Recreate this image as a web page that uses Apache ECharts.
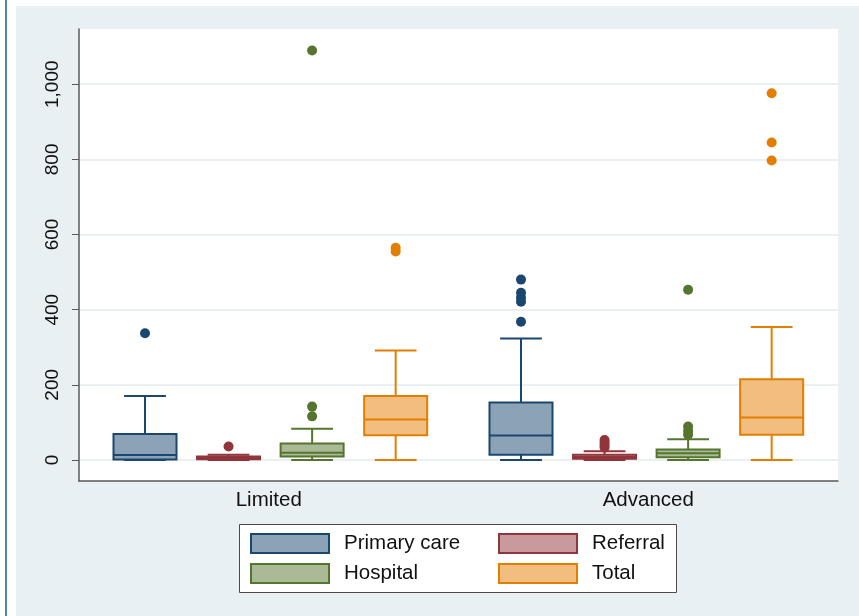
<!DOCTYPE html>
<html>
<head>
<meta charset="utf-8">
<script src="https://cdn.jsdelivr.net/npm/echarts@6/dist/echarts.min.js"></script>
<style>
  html, body { margin: 0; padding: 0; background: #ffffff; }
  #frame { position: relative; width: 859px; height: 616px; overflow: hidden; }
  #edge { position: absolute; left: 5px; top: 0; width: 2px; height: 616px; background: #4f7fc4; }
  #panel { position: absolute; left: 16px; top: 6px; right: 0; bottom: 0; background: #e9f0f3; }
  #chart { position: absolute; left: 0; top: 0; width: 859px; height: 616px; }
</style>
</head>
<body>
<div id="frame">
  <div id="edge"></div>
  <div id="panel"></div>
  <div id="chart"></div>
</div>
<script>
// Groups on the horizontal axis and the four measures drawn in each group
const groups = ['Limited', 'Advanced'];
const measures = ['Primary care', 'Referral', 'Hospital', 'Total'];

// Five-number summaries per group: [lower whisker, Q1, median, Q3, upper whisker]
const primaryCareBoxes = [[0, 1, 13, 69, 170], [0, 14, 65, 153, 323]];
const referralBoxes    = [[0, 2, 5, 9, 14],     [0, 3, 8, 14, 23]];
const hospitalBoxes    = [[0, 9, 19, 44, 83],   [0, 7, 18, 28, 55]];
const totalBoxes       = [[0, 66, 108, 170, 291], [0, 67, 113, 215, 354]];

// Outside values per group
const primaryCareOutliers = [[337], [368, 421, 432, 445, 480]];
const referralOutliers    = [[36], [33, 40, 46, 53]];
const hospitalOutliers    = [[116, 142, 1090], [67, 77, 89, 453]];
const totalOutliers       = [[555, 565], [797, 845, 976]];

// Value-axis tick labels
const yTicks = [0, 200, 400, 600, 800, 1000];

const boxesByMeasure = [primaryCareBoxes, referralBoxes, hospitalBoxes, totalBoxes];
const outliersByMeasure = [primaryCareOutliers, referralOutliers, hospitalOutliers, totalOutliers];

const lineColors = ['#1a476f', '#90353b', '#55752f', '#e37e00'];
const fillColors = ['#8ca3b7', '#c89a9d', '#aaba97', '#f1be7f'];

const FONT = '"Liberation Sans", Arial, Helvetica, sans-serif';
const GROUP_STRIDE = measures.length + 0.5;   // slot units between the first boxes of two groups

function slotOf(groupIndex, measureIndex) {
  return groupIndex * GROUP_STRIDE + measureIndex;
}

function makeBoxRenderer(stroke, fill) {
  return function (params, api) {
    const x = api.value(0);
    const pMin = api.coord([x, api.value(1)]);
    const pQ1 = api.coord([x, api.value(2)]);
    const pMed = api.coord([x, api.value(3)]);
    const pQ3 = api.coord([x, api.value(4)]);
    const pMax = api.coord([x, api.value(5)]);
    const unit = api.size([1, 0])[0];
    const half = unit * 0.377;
    const capHalf = unit * 0.25;
    const cx = pMed[0];
    const lineStyle = { stroke: stroke, lineWidth: 2, fill: null };
    return {
      type: 'group',
      children: [
        { type: 'line', shape: { x1: cx, y1: pQ3[1], x2: cx, y2: pMax[1] }, style: lineStyle },
        { type: 'line', shape: { x1: cx, y1: pQ1[1], x2: cx, y2: pMin[1] }, style: lineStyle },
        { type: 'line', shape: { x1: cx - capHalf, y1: pMax[1], x2: cx + capHalf, y2: pMax[1] }, style: lineStyle },
        { type: 'line', shape: { x1: cx - capHalf, y1: pMin[1], x2: cx + capHalf, y2: pMin[1] }, style: lineStyle },
        {
          type: 'rect',
          shape: { x: cx - half, y: pQ3[1], width: half * 2, height: pQ1[1] - pQ3[1] },
          style: { fill: fill, stroke: stroke, lineWidth: 2 }
        },
        { type: 'line', shape: { x1: cx - half, y1: pMed[1], x2: cx + half, y2: pMed[1] }, style: lineStyle }
      ]
    };
  };
}

const series = [];
measures.forEach(function (name, m) {
  const boxData = boxesByMeasure[m].map(function (five, g) {
    return [slotOf(g, m)].concat(five);
  });
  series.push({
    name: name,
    type: 'custom',
    xAxisIndex: 0,
    yAxisIndex: 0,
    renderItem: makeBoxRenderer(lineColors[m], fillColors[m]),
    encode: { x: 0, y: [1, 2, 3, 4, 5] },
    itemStyle: { color: fillColors[m], borderColor: lineColors[m] },
    data: boxData,
    z: 2,
    silent: true
  });
  const pts = [];
  outliersByMeasure[m].forEach(function (vals, g) {
    vals.forEach(function (v) { pts.push([slotOf(g, m), v]); });
  });
  series.push({
    name: name,
    type: 'scatter',
    xAxisIndex: 0,
    yAxisIndex: 0,
    symbol: 'circle',
    symbolSize: 10,
    itemStyle: { color: lineColors[m], opacity: 1 },
    data: pts,
    z: 3,
    silent: true
  });
});

// Legend: 2 x 2 layout inside a framed white box
const legendCells = [
  { m: 0, left: 250, top: 533 },
  { m: 1, left: 498, top: 533 },
  { m: 2, left: 250, top: 563 },
  { m: 3, left: 498, top: 563 }
];
const legends = legendCells.map(function (c) {
  return {
    left: c.left,
    top: c.top,
    padding: 0,
    itemGap: 0,
    itemWidth: 78,
    itemHeight: 19,
    icon: 'rect',
    selectedMode: false,
    data: [{
      name: measures[c.m],
      icon: 'rect',
      itemStyle: { color: fillColors[c.m], borderColor: lineColors[c.m], borderWidth: 2 }
    }],
    textStyle: { fontFamily: FONT, fontSize: 20.5, color: '#111', padding: [0, 0, 0, 10] }
  };
});

const option = {
  backgroundColor: 'transparent',
  animation: false,
  textStyle: { fontFamily: FONT },
  grid: {
    show: true,
    left: 79, top: 29, right: 21, bottom: 135,
    backgroundColor: '#ffffff',
    borderWidth: 0
  },
  xAxis: [
    {
      type: 'value',
      min: -0.79,
      max: 8.294,
      position: 'bottom',
      axisLine: { show: true, onZero: false, lineStyle: { color: '#5a5a5a', width: 1.5 } },
      axisTick: { show: false },
      axisLabel: { show: false },
      splitLine: { show: false }
    },
    {
      type: 'category',
      data: groups,
      position: 'bottom',
      boundaryGap: true,
      axisLine: { show: false },
      axisTick: { show: false },
      axisLabel: { show: true, fontFamily: FONT, fontSize: 20.5, color: '#111', margin: 9 },
      splitLine: { show: false }
    }
  ],
  yAxis: {
    type: 'value',
    min: -56,
    max: 1147,
    axisLine: { show: true, onZero: false, lineStyle: { color: '#5a5a5a', width: 1.5 } },
    axisTick: { show: true, length: 7, inside: false, customValues: yTicks, lineStyle: { color: '#5a5a5a', width: 1 } },
    axisLabel: {
      show: true,
      customValues: yTicks,
      rotate: 90,
      margin: 17,
      fontFamily: FONT,
      fontSize: 19,
      color: '#111',
      formatter: function (v) { return Number(v).toLocaleString('en-US'); }
    },
    splitLine: { show: true, lineStyle: { color: '#e3eaee', width: 1.5 } }
  },
  legend: legends,
  graphic: [{
    type: 'rect',
    z: 1,
    shape: { x: 239.5, y: 524.5, width: 437, height: 68 },
    style: { fill: '#ffffff', stroke: '#4a4a4a', lineWidth: 1 }
  }],
  series: series
};

const chart = echarts.init(document.getElementById('chart'), null, { renderer: 'canvas' });
chart.setOption(option);
</script>
</body>
</html>
